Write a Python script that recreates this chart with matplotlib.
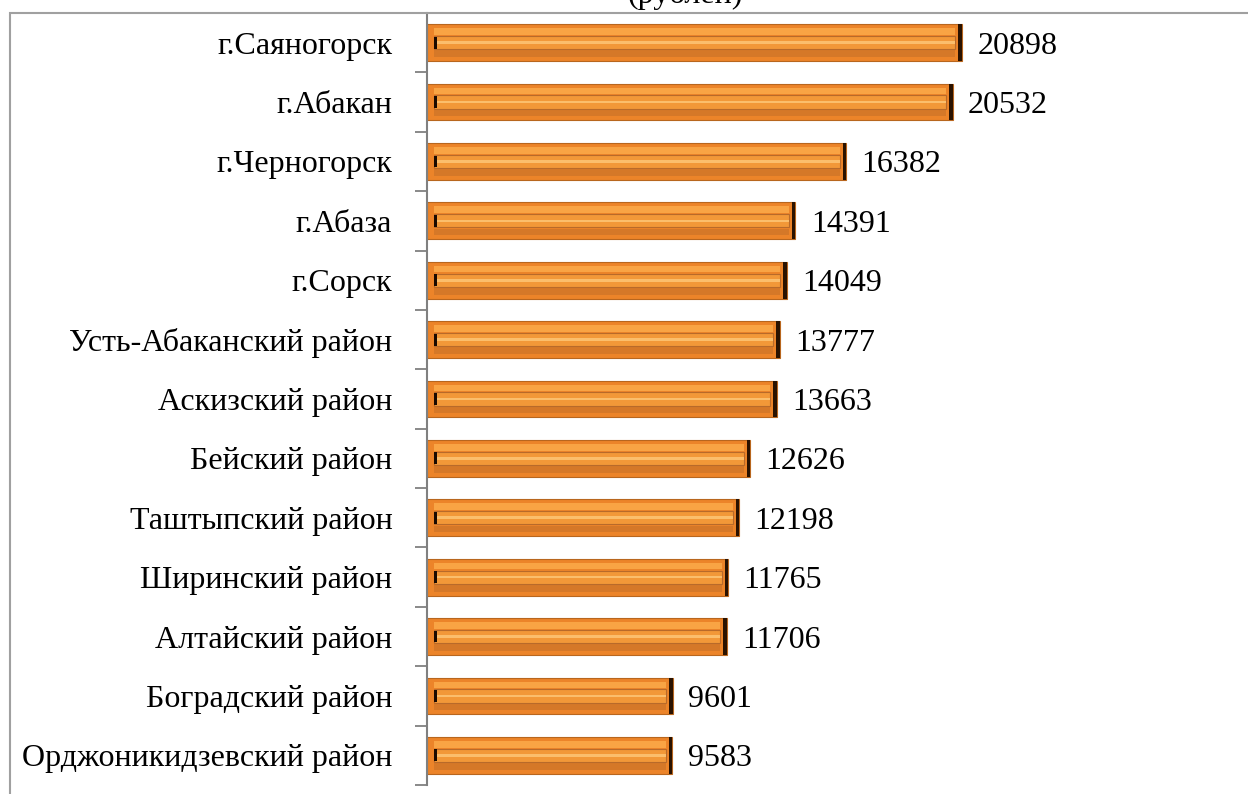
import matplotlib.pyplot as plt
from matplotlib.patches import Rectangle
import numpy as np

plt.rcParams['font.family'] = ['Liberation Serif', 'DejaVu Serif']

districts = ['г.Саяногорск', 'г.Абакан', 'г.Черногорск', 'г.Абаза', 'г.Сорск',
             'Усть-Абаканский район', 'Аскизский район', 'Бейский район',
             'Таштыпский район', 'Ширинский район', 'Алтайский район',
             'Боградский район', 'Орджоникидзевский район']
salary = np.array([20898, 20532, 16382, 14391, 14049, 13777, 13663,
                   12626, 12198, 11765, 11706, 9601, 9583])

W, H = 1248, 794
fig = plt.figure(figsize=(W / 100, H / 100), dpi=100)
ax = fig.add_axes([427 / W, 1 - 785 / H, (1240 - 427) / W, (785 - 13) / H])

y = np.arange(len(districts))
h = 0.62
off = 260

# bar body with bevel look
ax.barh(y, salary, height=h, color='#EC8429', edgecolor='#B8661E', linewidth=0.8, zorder=2)
ax.barh(y - h * 0.3, salary - 2 * off, left=off, height=h * 0.18, color='#F9A444', linewidth=0, zorder=3)
ax.barh(y + h * 0.3, salary - 2 * off, left=off, height=h * 0.18, color='#D57828', linewidth=0, zorder=3)
ax.barh(y, salary - 2 * off, left=off, height=h * 0.36, color='#F29838',
        edgecolor='#B86A2A', linewidth=0.8, zorder=4)
ax.barh(y, salary - 2 * off, left=off, height=h * 0.07, color='#FBBE6C', linewidth=0, zorder=5)
ax.barh(y, 140, left=salary - 140, height=h, color='#2A1200', linewidth=0, zorder=6)
ax.barh(y, 130, left=off, height=h * 0.32, color='#1A0A00', linewidth=0, zorder=6)

for yi, v in zip(y, salary):
    ax.text(v + 600, yi, str(v), va='center_baseline', ha='left', fontsize=23, color='black')

ax.set_xlim(0, (1240 - 427) / 535 * 20898)
ax.set_ylim(len(districts) - 0.5, -0.5)
ax.set_yticks(y)
ax.set_yticklabels(districts, fontsize=23, va='center_baseline')
ax.set_yticks(np.arange(-0.5, len(districts)), minor=True)
ax.tick_params(axis='y', which='major', length=0, pad=25)
ax.tick_params(axis='y', which='minor', length=9, width=1.3, color='#808080')
ax.set_xticks([])
for s in ['top', 'right', 'bottom']:
    ax.spines[s].set_visible(False)
ax.spines['left'].set_color('#808080')
ax.spines['left'].set_linewidth(1.5)

# outer chart frame
fig.patches.append(Rectangle((10 / W, -0.1), 1.2, 1.1 - 13 / H, transform=fig.transFigure,
                             fill=False, edgecolor='#A0A0A0', linewidth=1.5))
fig.text(685 / W, 1 - 3 / H, '(рублей)', ha='center', va='baseline', fontsize=23)

fig.savefig('out.png', dpi=100)
